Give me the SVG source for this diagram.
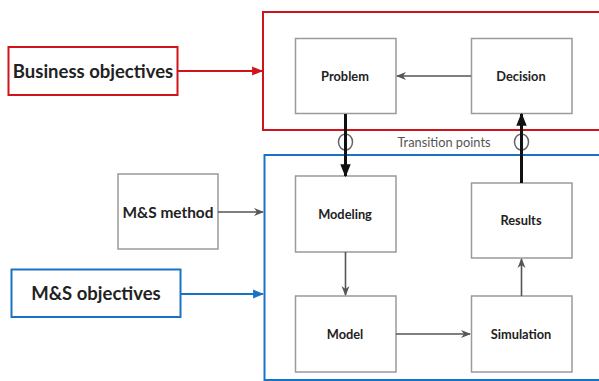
<svg xmlns="http://www.w3.org/2000/svg" width="599" height="381" viewBox="0 0 599 381">
  <defs>
    <marker id="ahGray" viewBox="0 0 10 10" refX="9" refY="5" markerWidth="10" markerHeight="10" markerUnits="userSpaceOnUse" orient="auto">
      <path d="M0,1 L10,5 L0,9 L3,5 Z" fill="#555"/>
    </marker>
    <marker id="ahRed" viewBox="0 0 10 10" refX="9" refY="5" markerWidth="11" markerHeight="11" markerUnits="userSpaceOnUse" orient="auto">
      <path d="M0,1 L10,5 L0,9 Z" fill="#d0141c"/>
    </marker>
    <marker id="ahBlue" viewBox="0 0 10 10" refX="9" refY="5" markerWidth="11" markerHeight="11" markerUnits="userSpaceOnUse" orient="auto">
      <path d="M0,1 L10,5 L0,9 Z" fill="#1a72c4"/>
    </marker>
    <marker id="ahBlack" viewBox="0 0 10 10" refX="9" refY="5" markerWidth="13" markerHeight="13" markerUnits="userSpaceOnUse" orient="auto">
      <path d="M0,1 L10,5 L0,9 Z" fill="#111"/>
    </marker>
  </defs>
  <style>
    .box { fill: #fff; stroke: #9a9a9a; stroke-width: 1.5; }
    .lbl { font-family: Lato, "Open Sans", "Liberation Sans", sans-serif; font-weight: bold; fill: #222; text-anchor: middle; dominant-baseline: central; }
    .small { font-size: 12.8px; }
    .big { font-size: 18.5px; }
    .mid { font-size: 15.4px; }
    .thin { stroke: #555; stroke-width: 1.6; fill: none; }
    .thick { stroke: #111; stroke-width: 3; fill: none; }
  </style>
  <rect width="599" height="381" fill="#fff"/>

  <!-- frames -->
  <g id="business-frame">
    <rect x="263" y="12" width="345" height="118" fill="none" stroke="#d0141c" stroke-width="2"/>
  </g>
  <g id="ms-frame">
    <rect x="264.5" y="155" width="345" height="225" fill="none" stroke="#1a72c4" stroke-width="2"/>
  </g>

  <!-- nodes -->
  <g id="business-objectives">
    <rect x="8.5" y="47" width="169" height="48" fill="#fff" stroke="#d0141c" stroke-width="2"/>
    <text class="lbl big" x="93" y="71">Business objectives</text>
  </g>
  <g id="ms-method">
    <rect x="118" y="174" width="100" height="75" class="box"/>
    <text class="lbl mid" x="168" y="212">M&amp;S method</text>
  </g>
  <g id="ms-objectives">
    <rect x="11.5" y="269.5" width="169" height="47.5" fill="#fff" stroke="#1a72c4" stroke-width="2"/>
    <text class="lbl big" x="96" y="293">M&amp;S objectives</text>
  </g>
  <g id="problem">
    <rect x="295.5" y="38.5" width="100.5" height="75" class="box"/>
    <text class="lbl small" x="345" y="76">Problem</text>
  </g>
  <g id="decision">
    <rect x="471.5" y="38.5" width="100.5" height="75" class="box"/>
    <text class="lbl small" x="521" y="76">Decision</text>
  </g>
  <g id="modeling">
    <rect x="295.5" y="176" width="100.5" height="76" class="box"/>
    <text class="lbl small" x="345" y="214">Modeling</text>
  </g>
  <g id="results">
    <rect x="471.5" y="183" width="100.5" height="75" class="box"/>
    <text class="lbl small" x="521" y="220">Results</text>
  </g>
  <g id="model">
    <rect x="295.5" y="296" width="100.5" height="76" class="box"/>
    <text class="lbl small" x="345" y="334">Model</text>
  </g>
  <g id="simulation">
    <rect x="471.5" y="296" width="100.5" height="76" class="box"/>
    <text class="lbl small" x="521" y="334">Simulation</text>
  </g>

  <!-- transition points -->
  <g id="transition-points">
    <text x="444" y="142" font-family="Lato, 'Open Sans', 'Liberation Sans', sans-serif" font-size="12.8" fill="#555" text-anchor="middle" dominant-baseline="central">Transition points</text>
    <ellipse cx="345.5" cy="142" rx="7" ry="8" fill="none" stroke="#666" stroke-width="1.5"/>
    <ellipse cx="521.5" cy="142" rx="7" ry="8" fill="none" stroke="#666" stroke-width="1.5"/>
  </g>

  <!-- connectors -->
  <g id="connectors">
    <line x1="178" y1="71" x2="262" y2="71" stroke="#d0141c" stroke-width="2" marker-end="url(#ahRed)"/>
    <line x1="218" y1="212" x2="263" y2="212" class="thin" marker-end="url(#ahGray)"/>
    <line x1="181" y1="294" x2="263" y2="294" stroke="#1a72c4" stroke-width="2" marker-end="url(#ahBlue)"/>
    <line x1="471" y1="76" x2="397" y2="76" class="thin" marker-end="url(#ahGray)"/>
    <line x1="345.5" y1="114" x2="345.5" y2="176" class="thick" marker-end="url(#ahBlack)"/>
    <line x1="521.5" y1="183" x2="521.5" y2="114" class="thick" marker-end="url(#ahBlack)"/>
    <line x1="345.5" y1="252" x2="345.5" y2="295" class="thin" marker-end="url(#ahGray)"/>
    <line x1="396" y1="334" x2="470" y2="334" class="thin" marker-end="url(#ahGray)"/>
    <line x1="521.5" y1="296" x2="521.5" y2="259" class="thin" marker-end="url(#ahGray)"/>
  </g>
</svg>
